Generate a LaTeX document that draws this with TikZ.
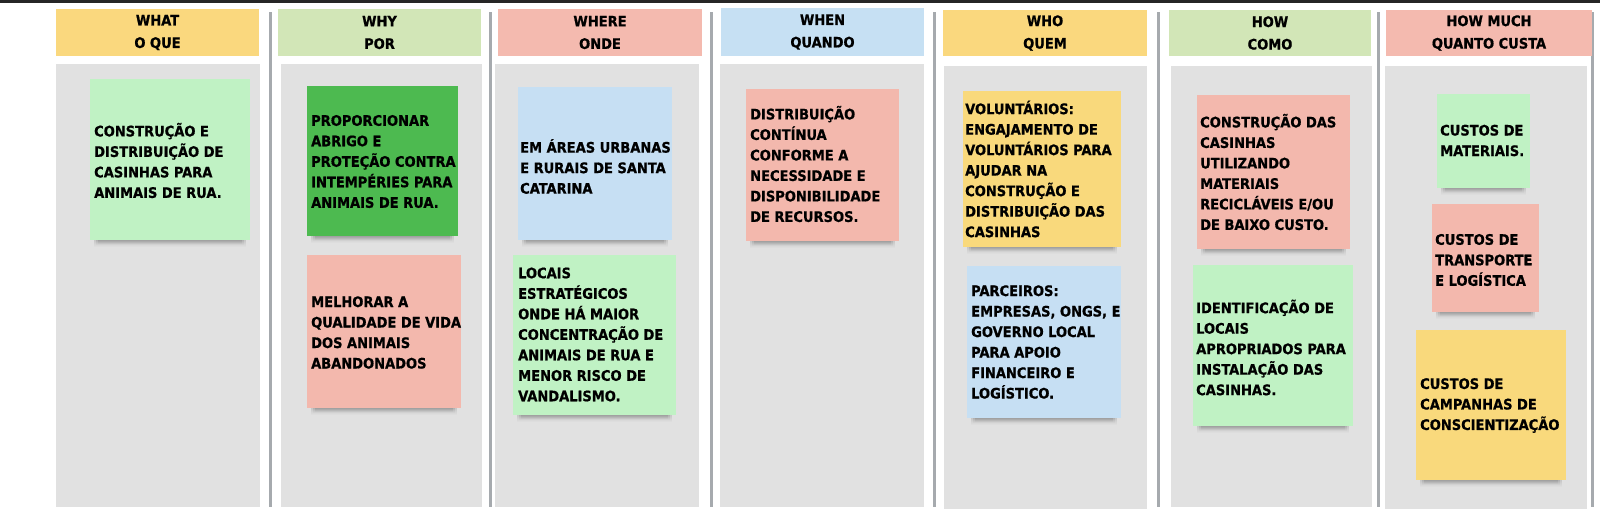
\documentclass[tikz,border=0pt]{standalone}
\usepackage{fontspec}
\newfontfamily\notefont{DejaVuSansCondensed-Bold.ttf}[FakeBold=0.8]
\usetikzlibrary{fadings}
\definecolor{hyellow}{HTML}{FAD87E}
\definecolor{hgreen}{HTML}{D2E6B7}
\definecolor{hsalmon}{HTML}{F4BAAF}
\definecolor{hblue}{HTML}{C6E0F3}
\definecolor{panelgray}{HTML}{E1E1E1}
\definecolor{sepgray}{HTML}{A6AAAE}
\definecolor{nlgreen}{HTML}{C0F2C4}
\definecolor{ndgreen}{HTML}{4DBA50}
\definecolor{nsalmon}{HTML}{F3B8AD}
\definecolor{nblue}{HTML}{C6DFF3}
\definecolor{nyellow}{HTML}{F9D97C}
\tikzset{
  hdr/.style={inner sep=0pt, align=center, font=\notefont\fontsize{14.5}{22.5}\selectfont},
  panel/.style={fill=panelgray, draw=none},
  sepline/.style={draw=sepgray, line width=3pt},
  sticky/.style={inner sep=0pt, draw=none},
  notetext/.style={inner sep=0pt, align=left, anchor=west, font=\notefont\fontsize{14.5}{20.5}\selectfont},
  nshadow/.style={fill=black, fill opacity=0.16, path fading=south},
}
\newcommand\stickynote[6]{% name, color, x1, y1, x2, y2
  \fill[nshadow] (#3+4,#6-3) rectangle (#5-4,#6+7);
  \fill[nshadow] (#3+6,#6-3) rectangle (#5-6,#6+5);
  \fill[nshadow] (#3+8,#6-3) rectangle (#5-8,#6+4);
  \node[sticky, fill=#2, minimum width=#5-#3, minimum height=#6-#4] (#1) at ({(#3+#5)/2},{(#4+#6)/2}) {};
}
\begin{document}
\begin{tikzpicture}[x=1pt,y=-1pt]
\useasboundingbox[fill=white] (0,0) rectangle (1600,531);
\fill[black!85] (0,0) rectangle (1600,3);

% panels
\fill[panel] (56,64) rectangle (260,507);
\fill[panel] (281,64) rectangle (482,507);
\fill[panel] (495,64) rectangle (699,507);
\fill[panel] (720,64) rectangle (924,507);
\fill[panel] (944,66) rectangle (1147,509);
\fill[panel] (1171,66) rectangle (1372,507);
\fill[panel] (1385,66) rectangle (1587,509);

% separators
\coordinate (s1a) at (270,12); \coordinate (s1b) at (270,507);
\coordinate (s2a) at (490,12); \coordinate (s2b) at (490,507);
\coordinate (s3a) at (711,12); \coordinate (s3b) at (711,507);
\coordinate (s4a) at (934,12); \coordinate (s4b) at (934,507);
\coordinate (s5a) at (1158,12); \coordinate (s5b) at (1158,507);
\coordinate (s6a) at (1378,12); \coordinate (s6b) at (1378,507);
\coordinate (s7a) at (1592,12); \coordinate (s7b) at (1592,507);
\foreach \i in {1,...,7} {\draw[sepline] (s\i a) -- (s\i b);}

% headers
\node[hdr, fill=hyellow, minimum width=203pt, minimum height=47pt] (h1) at (157.5,32.5) {WHAT\\O QUE};
\node[hdr, fill=hgreen, minimum width=203pt, minimum height=47pt] (h2) at (379.5,32.5) {WHY\\POR};
\node[hdr, fill=hsalmon, minimum width=204pt, minimum height=47pt] (h3) at (600,32.5) {WHERE\\ONDE};
\node[hdr, fill=hblue, minimum width=203pt, minimum height=48pt] (h4) at (822.5,32) {WHEN\\QUANDO};
\node[hdr, fill=hyellow, minimum width=204pt, minimum height=46pt] (h5) at (1045,33) {WHO\\QUEM};
\node[hdr, fill=hgreen, minimum width=202pt, minimum height=46pt] (h6) at (1270,33) {HOW\\COMO};
\node[hdr, fill=hsalmon, minimum width=206pt, minimum height=46pt] (h7) at (1489,33) {HOW MUCH\\QUANTO CUSTA};

% sticky notes
\stickynote{n1}{nlgreen}{90}{79}{250}{240}
\stickynote{n2}{ndgreen}{307}{86}{458}{236}
\stickynote{n3}{nsalmon}{307}{255}{461}{408}
\stickynote{n4}{nblue}{518}{87}{672}{240}
\stickynote{n5}{nlgreen}{513}{255}{676}{415}
\stickynote{n6}{nsalmon}{746}{89}{899}{241}
\stickynote{n7}{nyellow}{963}{91}{1121}{247}
\stickynote{n8}{nblue}{967}{266}{1121}{418}
\stickynote{n9}{nsalmon}{1197}{95}{1350}{249}
\stickynote{n10}{nlgreen}{1193}{265}{1353}{426}
\stickynote{n11}{nlgreen}{1437}{94}{1530}{188}
\stickynote{n12}{nsalmon}{1432}{204}{1539}{312}
\stickynote{n13}{nyellow}{1416}{330}{1566}{480}

% note texts
\node[notetext] (t1) at (94,160.5) {CONSTRUÇÃO E\\DISTRIBUIÇÃO DE\\CASINHAS PARA\\ANIMAIS DE RUA.};
\node[notetext] (t2) at (311,161.5) {PROPORCIONAR\\ABRIGO E\\PROTEÇÃO CONTRA\\INTEMPÉRIES PARA\\ANIMAIS DE RUA.};
\node[notetext] (t3) at (311,332.5) {MELHORAR A\\QUALIDADE DE VIDA\\DOS ANIMAIS\\ABANDONADOS};
\node[notetext] (t4) at (520,166.5) {EM ÁREAS URBANAS\\E RURAIS DE SANTA\\CATARINA};
\node[notetext] (t5) at (518,334.5) {LOCAIS\\ESTRATÉGICOS\\ONDE HÁ MAIOR\\CONCENTRAÇÃO DE\\ANIMAIS DE RUA E\\MENOR RISCO DE\\VANDALISMO.};
\node[notetext] (t6) at (750,164) {DISTRIBUIÇÃO\\CONTÍNUA\\CONFORME A\\NECESSIDADE E\\DISPONIBILIDADE\\DE RECURSOS.};
\node[notetext] (t7) at (965,169) {VOLUNTÁRIOS:\\ENGAJAMENTO DE\\VOLUNTÁRIOS PARA\\AJUDAR NA\\CONSTRUÇÃO E\\DISTRIBUIÇÃO DAS\\CASINHAS};
\node[notetext] (t8) at (971,342) {PARCEIROS:\\EMPRESAS, ONGS, E\\GOVERNO LOCAL\\PARA APOIO\\FINANCEIRO E\\LOGÍSTICO.};
\node[notetext] (t9) at (1200,172) {CONSTRUÇÃO DAS\\CASINHAS\\UTILIZANDO\\MATERIAIS\\RECICLÁVEIS E/OU\\DE BAIXO CUSTO.};
\node[notetext] (t10) at (1196,347.5) {IDENTIFICAÇÃO DE\\LOCAIS\\APROPRIADOS PARA\\INSTALAÇÃO DAS\\CASINHAS.};
\node[notetext] (t11) at (1440,140.5) {CUSTOS DE\\MATERIAIS.};
\node[notetext] (t12) at (1435,260) {CUSTOS DE\\TRANSPORTE\\E LOGÍSTICA};
\node[notetext] (t13) at (1420,405.5) {CUSTOS DE\\CAMPANHAS DE\\CONSCIENTIZAÇÃO};
\end{tikzpicture}
\end{document}
